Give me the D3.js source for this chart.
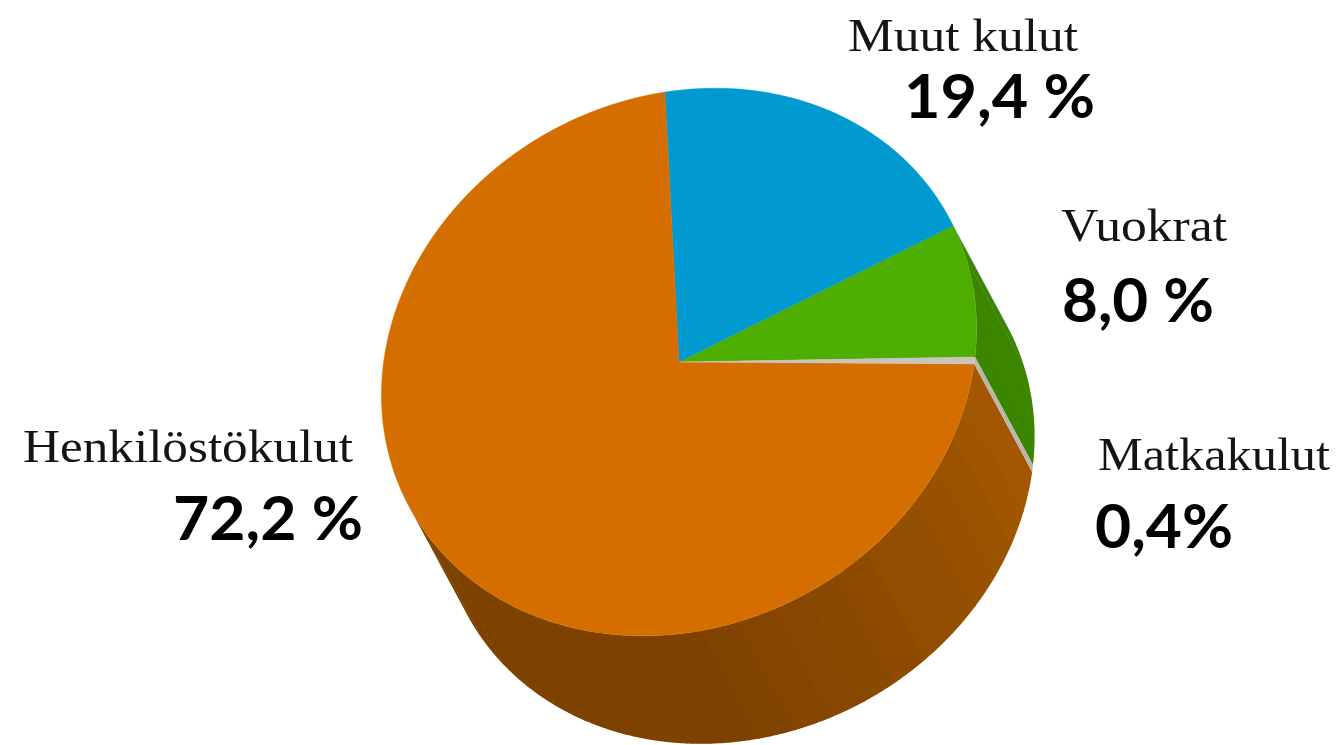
<!DOCTYPE html>
<html>
<head>
<meta charset="utf-8">
<script src="https://cdn.jsdelivr.net/npm/d3@7"></script>
<style>
  html, body { margin: 0; padding: 0; background: #fff; }
  svg { display: block; }
</style>
</head>
<body>
<div id="chart"></div>
<script>
// Data (counter-clockwise from the right edge of the pie)
const categories = ["Vuokrat", "Muut kulut", "Henkilöstökulut", "Matkakulut"];
const shares = [8.0, 19.4, 72.2, 0.4];
const valueLabels = ["8,0 %", "19,4 %", "72,2 %", "0,4%"];

const topColors = ["#4DAE00", "#009AD0", "#D46E00", "#CBC4BC"];
const sideColors = ["#3C8500", "#00789F", "#A45600", "#BDB5AD"];

const width = 1340;
const height = 745;

const svg = d3.select("#chart")
    .append("svg")
    .attr("width", width)
    .attr("height", height);

// Tilted disc: centre, the two axis vectors of the top face and the extrusion
const C = [679, 362];
const E = [296, -5];
const N = [30.7, -273.8];
const D = [58, 108];

function pt(a, t) {
    const c = Math.cos(a), s = Math.sin(a);
    return [C[0] + E[0] * c + N[0] * s + t * D[0],
            C[1] + E[1] * c + N[1] * s + t * D[1]];
}

// wall faces the viewer when its outward normal points along the extrusion
function visible(a) {
    const c = Math.cos(a), s = Math.sin(a);
    const tx = -E[0] * s + N[0] * c, ty = -E[1] * s + N[1] * c;
    const rx = E[0] * c + N[0] * s, ry = E[1] * c + N[1] * s;
    let nx = ty, ny = -tx;
    if (nx * rx + ny * ry < 0) { nx = -nx; ny = -ny; }
    return nx * D[0] + ny * D[1] > 0;
}

const pie = d3.pie().sort(null).value(d => d)(shares);
const line = d3.line();
const step = Math.PI / 720;
const band = 7 * Math.PI / 180;

// side shading for the big slice: dark at the bottom, lighter towards the right
const shade = d3.scaleLinear()
    .domain([280, 355])
    .range(["#7E4200", "#A45700"])
    .clamp(true);

// Walls
const walls = svg.append("g");
pie.forEach((p, i) => {
    const n = Math.max(2, Math.ceil((p.endAngle - p.startAngle) / step));
    const segs = d3.range(n).map(k => {
        const a0 = p.startAngle + (p.endAngle - p.startAngle) * k / n;
        const a1 = p.startAngle + (p.endAngle - p.startAngle) * (k + 1) / n;
        return { a0, a1, vis: visible((a0 + a1) / 2), b: Math.floor(a0 / band) };
    }).filter(s => s.vis);

    const groups = d3.groups(segs, s => s.b);
    groups.forEach(([b, g], gi) => {
        const angles = [g[0].a0].concat(g.map(s => s.a1));
        // overlap the next band a little so no seam shows
        if (gi < groups.length - 1) angles.push(angles[angles.length - 1] + step);
        const topPts = angles.map(a => pt(a, 0));
        const botPts = angles.map(a => pt(a, 1)).reverse();
        let fill = sideColors[i];
        if (i === 2) {
            const mid = ((g[0].a0 + g[g.length - 1].a1) / 2) * 180 / Math.PI;
            fill = shade(mid);
        }
        walls.append("path")
            .attr("d", line(topPts.concat(botPts)) + "Z")
            .attr("fill", fill);
    });
});

// Top faces
const tops = svg.append("g");
pie.forEach((p, i) => {
    const n = Math.max(2, Math.ceil((p.endAngle - p.startAngle) / step));
    const pts = [C].concat(d3.range(n + 1).map(k =>
        pt(p.startAngle + (p.endAngle - p.startAngle) * k / n, 0)));
    tops.append("path")
        .attr("d", line(pts) + "Z")
        .attr("fill", topColors[i])
        .attr("stroke", topColors[i])
        .attr("stroke-width", 0.4);
});

// Labels
const labelPos = [
    { name: [1061, 241, 166], value: [1062, 322, 152] },
    { name: [848, 51, 230], value: [904, 118, 191] },
    { name: [23, 462, 330], value: [173, 540, 190] },
    { name: [1098, 470, 232], value: [1095, 548, 138] }
];

const labels = svg.append("g");
categories.forEach((c, i) => {
    const lp = labelPos[i];
    labels.append("text")
        .attr("x", lp.name[0])
        .attr("y", lp.name[1])
        .attr("textLength", lp.name[2])
        .attr("lengthAdjust", "spacingAndGlyphs")
        .attr("font-family", "'Liberation Serif', 'DejaVu Serif', serif")
        .attr("font-size", 46)
        .attr("fill", "#141414")
        .text(c);
    labels.append("text")
        .attr("x", lp.value[0])
        .attr("y", lp.value[1])
        .attr("textLength", lp.value[2])
        .attr("lengthAdjust", "spacingAndGlyphs")
        .attr("font-family", "Lato, 'Open Sans', sans-serif")
        .attr("font-weight", 700)
        .attr("font-size", 61)
        .attr("fill", "#000")
        .text(valueLabels[i]);
});
</script>
</body>
</html>
